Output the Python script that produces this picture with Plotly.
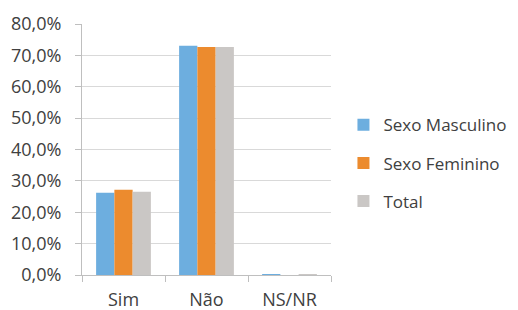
import plotly.graph_objects as go

categories = ["Sim", "Não", "NS/NR"]
masculino = [0.262, 0.731, 0.003]
feminino = [0.272, 0.727, 0.0]
total = [0.265, 0.727, 0.002]
series_names = ["Sexo Masculino", "Sexo Feminino", "Total"]
colors = ["#6DAEDF", "#EC8B2E", "#CAC7C5"]
tick_vals = [0, 0.1, 0.2, 0.3, 0.4, 0.5, 0.6, 0.7, 0.8]

fig = go.Figure()
for i, (name, vals) in enumerate(zip(series_names, [masculino, feminino, total])):
    fig.add_trace(go.Bar(
        x=categories, y=vals, name=name, legendgroup=f"g{i}",
        marker=dict(color=colors[i], line=dict(width=0)),
    ))

font = "Open Sans, Liberation Sans, sans-serif"
# the page body has an 8px margin, so the figure is 8px smaller than the window
fig.update_layout(
    width=510, height=302,
    margin=dict(l=74, r=187, t=16, b=35, autoexpand=False),
    paper_bgcolor="white", plot_bgcolor="white",
    barmode="group", bargap=0.34, bargroupgap=0,
    separators=",.",
    font=dict(family=font, size=18, color="#404040"),
    showlegend=True,
    legend=dict(x=1.05, y=0.445, xanchor="left", yanchor="middle",
                traceorder="grouped", tracegroupgap=13,
                font=dict(size=17, color="#404040"),
                itemwidth=30),
    xaxis=dict(showline=True, linecolor="#BFBFBF", linewidth=1,
               ticks="outside", tickson="boundaries", ticklen=6,
               tickcolor="#BFBFBF", showgrid=False, automargin=False,
               ticklabelstandoff=8),
    yaxis=dict(range=[0, 0.8], tickvals=tick_vals, tickformat=".1%",
               showline=True, linecolor="#BFBFBF", linewidth=1,
               ticks="outside", ticklen=6, tickcolor="#BFBFBF",
               showgrid=True, gridcolor="#D9D9D9", gridwidth=1,
               zeroline=False, automargin=False, ticklabelstandoff=10),
)

fig.write_html("out.html")
